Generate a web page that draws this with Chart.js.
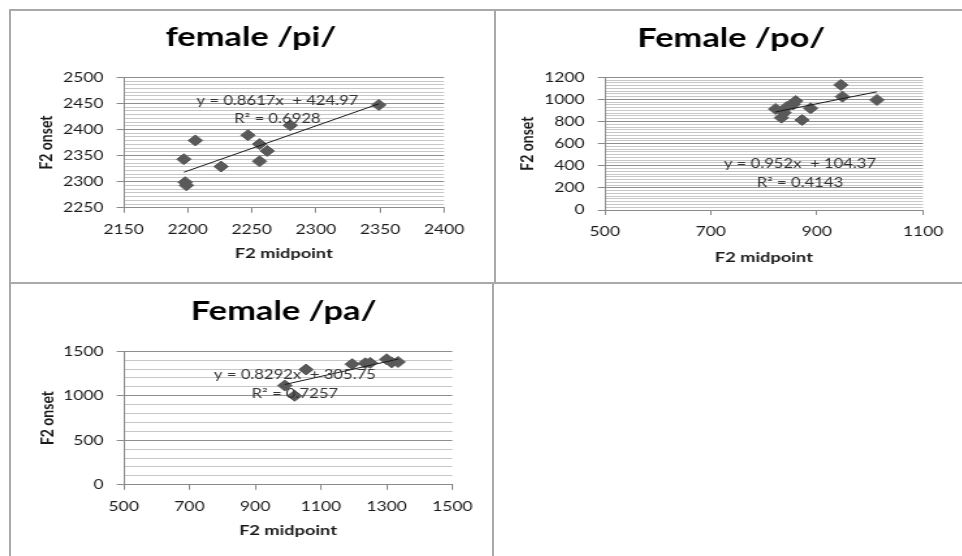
<!DOCTYPE html>
<html>
<head>
<meta charset="utf-8">
<title>F2 onset vs F2 midpoint – female</title>
<script src="https://cdn.jsdelivr.net/npm/chart.js@4.4.1/dist/chart.umd.min.js"></script>
<style>
  html, body { margin: 0; padding: 0; background: #fff; }
  body { width: 962px; height: 556px; position: relative; overflow: hidden; }
  .rule { position: absolute; background: #a9a9a9; }
  canvas { position: absolute; }
</style>
</head>
<body>
<div class="rule" style="left:9px;top:9px;width:953px;height:2px"></div>
<div class="rule" style="left:9px;top:9px;width:2px;height:547px"></div>
<div class="rule" style="left:494px;top:9px;width:2px;height:275px"></div>
<div class="rule" style="left:492px;top:283px;width:2px;height:273px"></div>
<div class="rule" style="left:9px;top:282px;width:953px;height:2px"></div>

<canvas id="chart-pi"></canvas>
<canvas id="chart-po"></canvas>
<canvas id="chart-pa"></canvas>

<script>
// ---- female /pi/ ----
const piMidpoint = [2197, 2206, 2198, 2199, 2226, 2247, 2256, 2262, 2256, 2280, 2349];
const piOnset    = [2343, 2379, 2299, 2293, 2329, 2389, 2372, 2359, 2339, 2408, 2447];
const piMidpointTicks = [2150, 2200, 2250, 2300, 2350, 2400];
const piOnsetTicks    = [2250, 2300, 2350, 2400, 2450, 2500];
const piFit = [0.8617, 424.97, 0.6928];   // slope, intercept, R²

// ---- Female /po/ ----
const poMidpoint = [822, 833, 838, 844, 855, 860, 872, 888, 945, 948, 1013];
const poOnset    = [913, 835, 880, 934, 955, 985, 814, 920, 1131, 1025, 995];
const poMidpointTicks = [500, 700, 900, 1100];
const poOnsetTicks    = [0, 200, 400, 600, 800, 1000, 1200];
const poFit = [0.952, 104.37, 0.4143];

// ---- Female /pa/ ----
const paMidpoint = [990, 1020, 1055, 1195, 1235, 1250, 1300, 1315, 1335];
const paOnset    = [1115, 1000, 1295, 1355, 1365, 1370, 1410, 1375, 1380];
const paMidpointTicks = [500, 700, 900, 1100, 1300, 1500];
const paOnsetTicks    = [0, 500, 1000, 1500];
const paFit = [0.8292, 305.75, 0.7257];

// Every panel is drawn narrow and widened by this factor on the page.
const S = 1.3;
const FONT = 'Lato';

// Major ticks from the label list, with evenly spaced minor grid ticks between them.
function gridTicks(majors, per) {
  const out = [];
  majors.forEach((v, i) => {
    out.push({ value: v, isMajor: true });
    if (i < majors.length - 1) {
      const step = (majors[i + 1] - v) / per;
      for (let k = 1; k < per; k++) out.push({ value: v + k * step, isMajor: false });
    }
  });
  return out;
}

// Trendline equation block, anchored in data units.
const equationLabel = {
  id: 'equationLabel',
  afterDatasetsDraw(chart, args, opts) {
    const { ctx, scales: { x, y } } = chart;
    const px = x.getPixelForValue(opts.at[0]);
    const py = y.getPixelForValue(opts.at[1]);
    ctx.save();
    ctx.font = `${opts.size}px ${FONT}`;
    ctx.fillStyle = opts.color;
    ctx.textAlign = 'center';
    ctx.textBaseline = 'middle';
    opts.lines.forEach((t, i) => ctx.fillText(t, px, py + i * opts.gap));
    ctx.restore();
  }
};

function drawPanel(id, d, L) {
  const el = document.getElementById(id);
  el.width = L.w;
  el.height = L.h;
  el.style.left = L.left + 'px';
  el.style.top = L.top + 'px';
  el.style.width = (L.w * S) + 'px';
  el.style.height = L.h + 'px';

  const [slope, intercept, r2] = d.fit;
  const lo = Math.min(...d.midpoint), hi = Math.max(...d.midpoint);
  const yGrid = gridTicks(d.yTicks, L.minorPer);
  const xMarks = d.xTicks.map(v => ({ value: v }));

  return new Chart(el, {
    type: 'scatter',
    data: {
      datasets: [
        {
          type: 'line',
          label: 'Linear trend',
          data: [{ x: lo, y: slope * lo + intercept }, { x: hi, y: slope * hi + intercept }],
          borderColor: '#1a1a1a',
          borderWidth: 1,
          pointRadius: 0,
          fill: false,
          order: 0,
          yAxisID: 'y'
        },
        {
          label: d.title,
          data: d.midpoint.map((x, i) => ({ x, y: d.onset[i] })),
          pointStyle: 'rectRot',
          pointRadius: 5.5,
          backgroundColor: '#595959',
          borderColor: '#595959',
          borderWidth: 1,
          order: 1,
          yAxisID: 'y'
        }
      ]
    },
    options: {
      responsive: false,
      animation: false,
      devicePixelRatio: 1,
      events: [],
      layout: { padding: { left: 2, right: L.padRight, top: 0, bottom: 0 } },
      scales: {
        x: {
          type: 'linear',
          min: d.xTicks[0],
          max: d.xTicks[d.xTicks.length - 1],
          afterBuildTicks: s => { s.ticks = xMarks.map(t => ({ ...t })); },
          afterFit: s => { s.height = L.xAxisH; },
          grid: { drawOnChartArea: false, drawTicks: true, tickLength: 5, color: '#8a8a8a', tickColor: '#8a8a8a' },
          border: { display: true, color: '#8a8a8a', width: 1 },
          ticks: {
            autoSkip: false, maxRotation: 0, padding: 9, color: '#1a1a1a',
            font: { family: FONT, size: 13.4 },
            callback: v => String(Math.round(v))
          },
          title: {
            display: true, text: 'F2 midpoint', color: '#1a1a1a',
            font: { family: FONT, size: 14, weight: 'bold' },
            padding: { top: 0, bottom: L.xTitlePad }
          }
        },
        y: {
          type: 'linear',
          position: 'left',
          min: d.yTicks[0],
          max: d.yTicks[d.yTicks.length - 1],
          afterBuildTicks: s => { s.ticks = yGrid.map(t => ({ ...t })); },
          afterFit: s => { s.width = 70; },
          grid: {
            drawTicks: true,
            tickLength: 5.4,
            lineWidth: 1,
            color: c => (c.tick && c.tick.isMajor) ? '#8e8e8e' : '#c6c6c6',
            tickColor: c => (c.tick && c.tick.isMajor) ? '#8a8a8a' : 'rgba(0,0,0,0)'
          },
          border: { display: true, color: '#8a8a8a', width: 1 },
          ticks: {
            autoSkip: false,
            padding: 10,
            color: '#1a1a1a',
            font: { family: FONT, size: 13.4 },
            callback: (v, i, ticks) => ticks[i].isMajor ? String(Math.round(v)) : ''
          },
          title: {
            display: true, text: 'F2 onset', color: '#1a1a1a',
            font: { family: FONT, size: 14, weight: 'bold' },
            padding: { top: L.yTitlePad, bottom: 0 }
          }
        },
        // empty right-hand strip that sets where the centred title sits
        spacer: {
          type: 'linear',
          position: 'right',
          display: true,
          grid: { display: false, drawTicks: false },
          border: { display: false },
          ticks: { display: false },
          afterFit: s => { s.width = L.spacer; }
        }
      },
      plugins: {
        legend: { display: false },
        tooltip: { enabled: false },
        title: {
          display: true,
          text: d.title,
          color: '#000',
          font: { family: FONT, size: 26.4, weight: 'bold' },
          padding: { top: L.titleTop, bottom: L.titleBottom }
        },
        equationLabel: {
          at: L.eqAt,
          gap: L.eqGap,
          size: 12.8,
          color: '#333',
          lines: [`y = ${slope}x  + ${intercept}`, `R\u00B2 = ${r2}`]
        }
      }
    },
    plugins: [equationLabel]
  });
}

drawPanel('chart-pi',
  { title: 'female /pi/', midpoint: piMidpoint, onset: piOnset, xTicks: piMidpointTicks, yTicks: piOnsetTicks, fit: piFit },
  { left: 30.4, top: 12, w: 343, h: 270, padRight: 5.3, spacer: 13.2, xAxisH: 74.2, xTitlePad: 20.1,
    yTitlePad: 2.4, titleTop: 10.1, titleBottom: 23.5, minorPer: 7, eqAt: [2270, 2455], eqGap: 18.3 });

drawPanel('chart-po',
  { title: 'Female /po/', midpoint: poMidpoint, onset: poOnset, xTicks: poMidpointTicks, yTicks: poOnsetTicks, fit: poFit },
  { left: 511.4, top: 12, w: 341, h: 270, padRight: 4.7, spacer: 13.5, xAxisH: 72, xTitlePad: 15.9,
    yTitlePad: 2.4, titleTop: 10.8, titleBottom: 22.8, minorPer: 8, eqAt: [868, 416], eqGap: 18.7 });

drawPanel('chart-pa',
  { title: 'Female /pa/', midpoint: paMidpoint, onset: paOnset, xTicks: paMidpointTicks, yTicks: paOnsetTicks, fit: paFit },
  { left: 30.4, top: 290, w: 388, h: 265, padRight: 0.2, spacer: 63.3, xAxisH: 70.2, xTitlePad: 16.2,
    yTitlePad: 3, titleTop: 5.5, titleBottom: 24.1, minorPer: 5, eqAt: [1021, 1234], eqGap: 19 });
</script>
</body>
</html>
